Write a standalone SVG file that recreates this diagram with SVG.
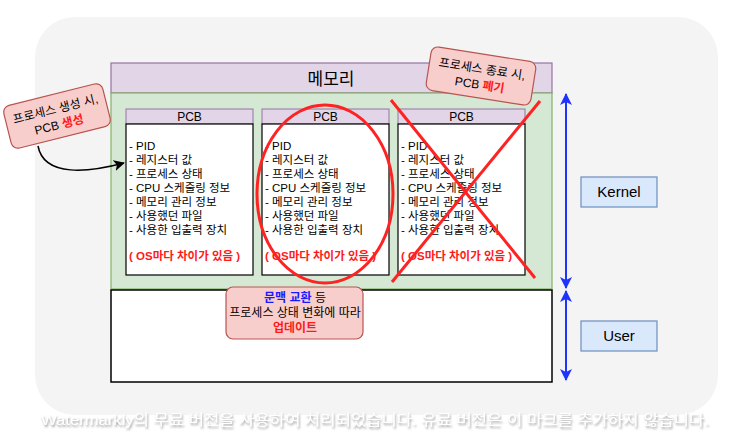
<svg xmlns="http://www.w3.org/2000/svg" width="750" height="448" viewBox="0 0 750 448">
<style>
text{font-family:"Liberation Sans","Noto Sans CJK KR",Arial,sans-serif;fill:#000}
.pcbh{fill:#e1d5e7;stroke:#9673a6;stroke-width:1}
.pcbb{fill:#fff;stroke:#000;stroke-width:1.2}
.item{font-size:11.5px}
.os{font-size:11.5px;font-weight:bold;fill:#ff1a1a}
.ttl{font-size:12px;text-anchor:middle}
.call{fill:#f8cecc;stroke:#b85450;stroke-width:1.2}
.ct{font-size:12px;text-anchor:middle}
.red{fill:#ff1a1a;font-weight:bold}
.blue{fill:#1a1aff;font-weight:bold}
.lbl{fill:#dae8fc;stroke:#6c8ebf;stroke-width:1.2}
.barr{stroke:#1f33ff;stroke-width:2;fill:none;marker-start:url(#bh);marker-end:url(#bh)}
.mark{stroke:#ff2222;stroke-width:3;fill:none}
</style>
<defs>
<filter id="sh" x="-5%" y="-50%" width="110%" height="200%">
<feDropShadow dx="1" dy="2" stdDeviation="1.2" flood-color="#888" flood-opacity="0.8"/>
</filter>
<marker id="bh" viewBox="0 0 12 12" refX="11" refY="6" markerWidth="12" markerHeight="12" markerUnits="userSpaceOnUse" orient="auto-start-reverse">
<path d="M0,0 L12,6 L0,12 L3,6 Z" fill="#1f33ff"/>
</marker>
<marker id="kh" viewBox="0 0 12 12" refX="11" refY="6" markerWidth="11" markerHeight="11" markerUnits="userSpaceOnUse" orient="auto">
<path d="M0,0 L12,6 L0,12 L3,6 Z" fill="#000"/>
</marker>
<g id="pcbtpl">
<rect class="pcbh" x="0" y="0" width="127" height="15"/>
<text class="ttl" x="63.5" y="12">PCB</text>
<rect class="pcbb" x="0" y="15" width="127" height="151"/>
<text class="item" x="3" y="41">- PID</text>
<text class="item" x="3" y="55">- 레지스터 값</text>
<text class="item" x="3" y="69">- 프로세스 상태</text>
<text class="item" x="3" y="83">- CPU 스케줄링 정보</text>
<text class="item" x="3" y="97">- 메모리 관리 정보</text>
<text class="item" x="3" y="111">- 사용했던 파일</text>
<text class="item" x="3" y="125">- 사용한 입출력 장치</text>
<text class="os" x="3" y="151">( OS마다 차이가 있음 )</text>
</g>
</defs>
<rect id="bg" x="35" y="17" width="683" height="398" rx="40" fill="#f4f4f4"/>
<g id="memory">
<rect x="111" y="63" width="441" height="30" fill="#e1d5e7" stroke="#9673a6" stroke-width="1.2"/>
<text x="331" y="85" font-size="17" text-anchor="middle">메모리</text>
</g>
<g id="kernel-area">
<rect x="111" y="93" width="441" height="196" fill="#d5e8d4" stroke="#82b366" stroke-width="1.2"/>
</g>
<g id="user-area">
<rect x="111" y="290" width="441" height="92" fill="#fff" stroke="#000" stroke-width="1.5"/>
</g>
<g id="pcb1"><use href="#pcbtpl" x="126" y="109"/></g>
<g id="pcb2"><use href="#pcbtpl" x="262" y="109"/></g>
<g id="pcb3"><use href="#pcbtpl" x="398" y="109"/></g>
<g id="kernel-label">
<rect class="lbl" x="581" y="177" width="76" height="30"/>
<text x="619" y="197" font-size="15" text-anchor="middle">Kernel</text>
</g>
<g id="user-label">
<rect class="lbl" x="581" y="321" width="76" height="30"/>
<text x="619" y="341" font-size="15" text-anchor="middle">User</text>
</g>
<g id="connectors">
<path d="M38,146 C44,178 90,172 124,163" stroke="#000" stroke-width="1.5" fill="none" marker-end="url(#kh)"/>
<line class="barr" x1="566" y1="94" x2="566" y2="288"/>
<line class="barr" x1="566" y1="291" x2="566" y2="380"/>
<ellipse class="mark" cx="325" cy="194" rx="68" ry="89"/>
<line class="mark" x1="391" y1="100" x2="535" y2="278"/>
<line class="mark" x1="540" y1="101" x2="392" y2="282"/>
</g>
<g id="callout-create" transform="translate(57,116) rotate(-14)">
<rect class="call" x="-51" y="-22" width="102" height="44" rx="7"/>
<text class="ct" x="0" y="-3">프로세스 생성 시,</text>
<text class="ct" x="0" y="13">PCB <tspan class="red">생성</tspan></text>
</g>
<g id="callout-delete" transform="translate(481,76) rotate(9)">
<rect class="call" x="-53" y="-22" width="106" height="44" rx="7"/>
<text class="ct" x="0" y="-3">프로세스 종료 시,</text>
<text class="ct" x="0" y="13">PCB <tspan class="red">폐기</tspan></text>
</g>
<g id="callout-update">
<rect class="call" x="226" y="287" width="137" height="52" rx="7"/>
<text class="ct" x="295" y="302"><tspan class="blue">문맥 교환</tspan> 등</text>
<text class="ct" x="295" y="317" font-size="11.5">프로세스 상태 변화에 따라</text>
<text class="ct red" x="295" y="332">업데이트</text>
</g>
<g id="watermark">
<text x="375" y="425" font-size="15" text-anchor="middle" textLength="668" lengthAdjust="spacingAndGlyphs" filter="url(#sh)" style="fill:#ffffff">Watermarkly의 무료 버전을 사용하여 처리되었습니다. 유료 버전은 이 마크를 추가하지 않습니다.</text>
</g>
</svg>
